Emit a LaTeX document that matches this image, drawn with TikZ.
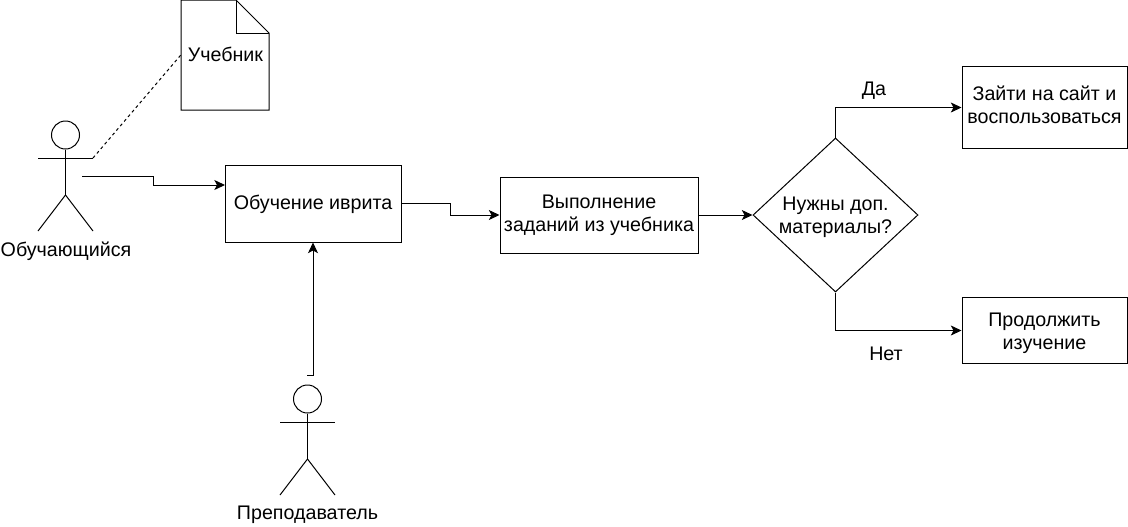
\documentclass[tikz,border=0pt]{standalone}
\usepackage{fontspec}
\setmainfont{Liberation Sans}
\usetikzlibrary{arrows.meta,shapes.geometric}
\newcommand{\tallfirst}[1]{\rule{0pt}{#1pt}}
\newcommand{\deeplast}[1]{\rule[-#1pt]{0pt}{#1pt}}
\tikzset{
  x=0.75pt,y=-0.75pt,
  every node/.style={font=\fontsize{14.75}{17.25}\selectfont,align=center},
  ln/.style={draw=black,line width=0.75pt},
  procbox/.style={ln,rectangle,inner sep=0pt},
  docbox/.style={rectangle,inner sep=0pt,minimum width=66pt,minimum height=82.5pt},
  decision/.style={ln,diamond,shape aspect=1.07,inner sep=0pt,minimum width=123.75pt,minimum height=115.5pt},
  headc/.style={ln,circle,inner sep=0pt,minimum size=21pt},
  lbl/.style={inner sep=0pt},
  flow/.style={ln,-{Stealth[length=8pt,width=7.5pt,inset=2pt]}},
  dotline/.style={ln,dash pattern=on 2.25pt off 2.25pt},
}
\begin{document}
\begin{tikzpicture}
\useasboundingbox (0,0) rectangle (1128,526);
% boxes
\node[procbox,minimum width=132pt,minimum height=57.75pt] (learn) at (313,203.5) {\tallfirst{12.7}Обучение иврита};
\node[procbox,minimum width=148.5pt,minimum height=57pt] (tasks) at (599,215) {Выполнение\\заданий из учебника};
\node[decision] (need) at (835.5,215) {\tallfirst{13.6}Нужны доп.\\материалы?};
\node[procbox,minimum width=123.75pt,minimum height=62pt] (site) at (1044.5,107.5) {Зайти на сайт и\\воспользоваться\deeplast{4.5}};
\node[procbox,minimum width=123.75pt,minimum height=49pt] (cont) at (1044.5,330.5) {\tallfirst{14.4}Продолжить\\изучение};
% document
\node[docbox] (book) at (225.5,54.5) {Учебник};
\coordinate (bookA) at (181,0);
\coordinate (bookB) at (236,0);
\coordinate (bookC) at (269,33);
\coordinate (bookD) at (269,110);
\coordinate (bookE) at (181,110);
\coordinate (bookF) at (236,33);
\draw[ln,line join=miter] (bookA) -- (bookB) -- (bookC) -- (bookD) -- (bookE) -- cycle;
\draw[ln] (bookB) -- (bookF) -- (bookC);
% student actor
\node[headc] (sHead) at (65.5,135) {};
\coordinate (sHip) at (65.5,195);
\coordinate (sArmL) at (38,158);
\coordinate (sArmR) at (93,158);
\coordinate (sLegL) at (38,231);
\coordinate (sLegR) at (93,231);
\draw[ln] (sHead.south) -- (sHip);
\draw[ln] (sArmL) -- (sArmR);
\draw[ln] (sLegL) -- (sHip) -- (sLegR);
\node[lbl] (sLabel) at (66,251.5) {Обучающийся};
% teacher actor
\node[headc] (tHead) at (307.5,399) {};
\coordinate (tHip) at (307.5,459);
\coordinate (tArmL) at (280,422);
\coordinate (tArmR) at (335,422);
\coordinate (tLegL) at (280,495);
\coordinate (tLegR) at (335,495);
\draw[ln] (tHead.south) -- (tHip);
\draw[ln] (tArmL) -- (tArmR);
\draw[ln] (tLegL) -- (tHip) -- (tLegR);
\node[lbl] (tLabel) at (307.5,515) {Преподаватель};
% connectors
\draw[dotline] (sArmR) -- (book.west);
\coordinate (sOut) at (82,176);
\coordinate (learnIn) at (225,185);
\draw[flow] (sOut) -- (153,176) -- (153,185) -- (learnIn);
\coordinate (learnTurn) at (450,203.5);
\coordinate (tasksTurn) at (450,215);
\draw[flow] (learn.east) -- (learnTurn) -- (tasksTurn) -- (tasks.west);
\draw[flow] (tasks.east) -- (need.west);
\coordinate (tOut) at (307,375);
\draw[flow] (tOut) -- (learn.south |- tOut) -- (learn.south);
\draw[flow] (need.north) |- (site.west);
\draw[flow] (need.south) |- (cont.west);
\node[lbl] (yes) at (874,91) {Да};
\node[lbl] (no) at (886,354) {Нет};
\end{tikzpicture}
\end{document}
